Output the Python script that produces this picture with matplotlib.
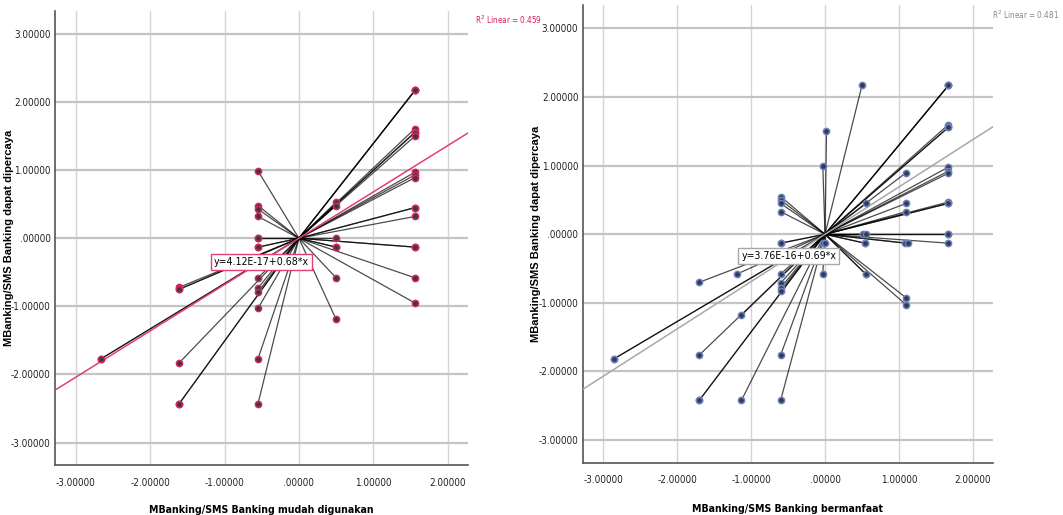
import numpy as np
import matplotlib
matplotlib.use("Agg")
import matplotlib.pyplot as plt
from matplotlib import font_manager

# --- data (standardized scores) ---
left_x = [1.56, 1.56, 1.56, 1.56, 1.56, 1.56, 1.56, 1.56, 1.56, 1.56, 1.56, 1.56,
          1.56, 1.56, 1.56, 1.56, 1.56,
          0.50, 0.50, 0.50, 0.50, 0.50, 0.50, 0.50,
          -0.55, -0.55, -0.55, -0.55, -0.55, -0.55, -0.55, -0.55, -0.55, -0.55,
          -0.55, -0.55, -0.55, -0.55,
          -1.61, -1.61, -1.61, -1.61, -1.61, -1.61,
          -2.66, -2.66]
left_y = [2.17, 2.17, 2.17, 1.61, 1.56, 1.55, 1.50, 0.97, 0.93, 0.89, 0.45, 0.45,
          0.32, -0.13, -0.13, -0.58, -0.95,
          0.53, 0.48, 0.00, -0.13, -0.13, -0.58, -1.19,
          0.99, 0.48, 0.43, 0.32, 0.00, 0.00, -0.13, -0.13, -0.58, -0.73,
          -0.79, -1.03, -1.77, -2.43,
          -0.72, -0.75, -0.75, -1.83, -2.43, -2.43,
          -1.77, -1.77]

right_x = [1.67, 1.67, 1.67, 1.67, 1.67, 1.67, 1.67, 1.67, 1.67, 1.67, 1.67, 1.67,
           1.67, 1.67, 1.67,
           1.10, 1.10, 1.10, 1.08, 1.12, 1.10, 1.10,
           0.56, 0.52, 0.56, 0.54, 0.54, 0.55, 0.55, 0.50,
           0.02, -0.03, -0.03, 0.00, -0.03,
           -0.60, -0.60, -0.60, -0.60, -0.60, -0.60, -0.60, -0.60, -0.60, -0.60,
           -0.60, -0.60,
           -1.13, -1.13, -1.19,
           -1.70, -1.70, -1.70, -1.70,
           -2.86, -2.86]
right_y = [2.17, 2.17, 2.17, 1.60, 1.56, 1.56, 0.98, 0.92, 0.89, 0.47, 0.45, 0.45,
           0.00, 0.00, -0.13,
           0.90, 0.45, 0.33, -0.13, -0.13, -0.93, -1.03,
           0.45, 0.00, 0.00, -0.13, -0.13, -0.58, -0.58, 2.17,
           1.51, 0.99, -0.13, -0.13, -0.58,
           0.55, 0.50, 0.45, 0.33, -0.13, -0.13, -0.58, -0.71, -0.78, -0.82,
           -1.76, -2.42,
           -1.18, -2.42, -0.58,
           -0.70, -1.76, -2.42, -2.42,
           -1.82, -1.82]

centroid = (0.0, 0.0)
fit_left = (4.12e-17, 0.68)
fit_right = (3.76e-16, 0.69)
r2_left = 0.459
r2_right = 0.481

ticks = [-3, -2, -1, 0, 1, 2, 3]
tick_labels = ["-3.00000", "-2.00000", "-1.00000", ".00000", "1.00000", "2.00000", "3.00000"]

# pick a narrow font if one is there, else plain Liberation Sans a bit smaller
fonts = font_manager.fontManager.ttflist
names = {f.name for f in fonts}
if "Liberation Sans Narrow" in names:
    nfam, nstretch, nscale = "Liberation Sans Narrow", "normal", 1.0
elif any(f.name == "DejaVu Sans" and f.stretch in ("condensed", "semi-condensed") for f in fonts):
    nfam, nstretch, nscale = "DejaVu Sans", "condensed", 0.95
else:
    nfam, nstretch, nscale = "Liberation Sans", "normal", 0.88


def nfont(size, weight="normal"):
    return dict(family=nfam, stretch=nstretch, fontsize=size * nscale, fontweight=weight)


fig = plt.figure(figsize=(10.63, 5.15), dpi=100)
ax1 = fig.add_axes([0.0517, 0.097, 0.3883, 0.882])
ax2 = fig.add_axes([0.548, 0.1016, 0.386, 0.8884])


def draw(ax, xs, ys, fit, line_col, face, edge, xlabel, eq_pos, eq_text, lab_x, lab_y):
    xlim = (-3.28, 2.27)
    ylim = (-3.33, 3.34)
    ax.set_xlim(*xlim)
    ax.set_ylim(*ylim)
    cx, cy = centroid
    for x, y in zip(xs, ys):
        ax.plot([cx, x], [cy, y], color="black", lw=0.9, alpha=0.7, zorder=3)
    xx = np.array(xlim)
    ax.plot(xx, fit[0] + fit[1] * xx, color=line_col, lw=1.1, zorder=4)
    ax.scatter(xs, ys, s=20, facecolor=face, edgecolor=edge, linewidths=1.1, zorder=5)

    ax.set_xticks(ticks[:-1])
    ax.set_xticklabels(tick_labels[:-1], **nfont(7.5))
    ax.set_yticks(ticks)
    ax.set_yticklabels(tick_labels, **nfont(7.5))
    ax.tick_params(axis="x", length=0, pad=9, colors="#222222")
    ax.tick_params(axis="y", length=0, pad=3, colors="#222222")
    ax.grid(axis="x", color="#d4d4d4", lw=1.0)
    ax.grid(axis="y", color="#c4c4c4", lw=1.6)
    ax.set_axisbelow(True)
    for s in ["top", "right"]:
        ax.spines[s].set_visible(False)
    for s in ["left", "bottom"]:
        ax.spines[s].set_color("#555555")
        ax.spines[s].set_linewidth(1.2)
    ax.set_xlabel(xlabel, **nfont(8, "bold"))
    ax.xaxis.set_label_coords(0.5, lab_y)
    ax.set_ylabel("MBanking/SMS Banking dapat dipercaya", family="Liberation Sans",
                  fontsize=8, fontweight="bold")
    ax.yaxis.set_label_coords(lab_x, 0.5)
    ax.text(eq_pos[0], eq_pos[1], eq_text, ha="center", va="center", zorder=6,
            bbox=dict(boxstyle="square,pad=0.3", facecolor="white", edgecolor=line_col, lw=1),
            **nfont(8))


draw(ax1, left_x, left_y, fit_left, "#e0416e", "#3a3a3a", "#d42a5b",
     "MBanking/SMS Banking mudah digunakan", (-0.50, -0.345), "y=4.12E-17+0.68*x",
     -0.099, -0.088)
draw(ax2, right_x, right_y, fit_right, "#a8a8a8", "#2d3a5a", "#6f82b6",
     "MBanking/SMS Banking bermanfaat", (-0.49, -0.32), "y=3.76E-16+0.69*x",
     -0.102, -0.090)

fig.text(0.447, 0.961, "R$^2$ Linear = %.3f" % r2_left, color="#d81b60", va="center",
         **nfont(6.2))
fig.text(0.996, 0.971, "R$^2$ Linear = %.3f" % r2_right, color="#888888", va="center",
         ha="right", **nfont(6.2))

fig.savefig("out.png", dpi=100)
